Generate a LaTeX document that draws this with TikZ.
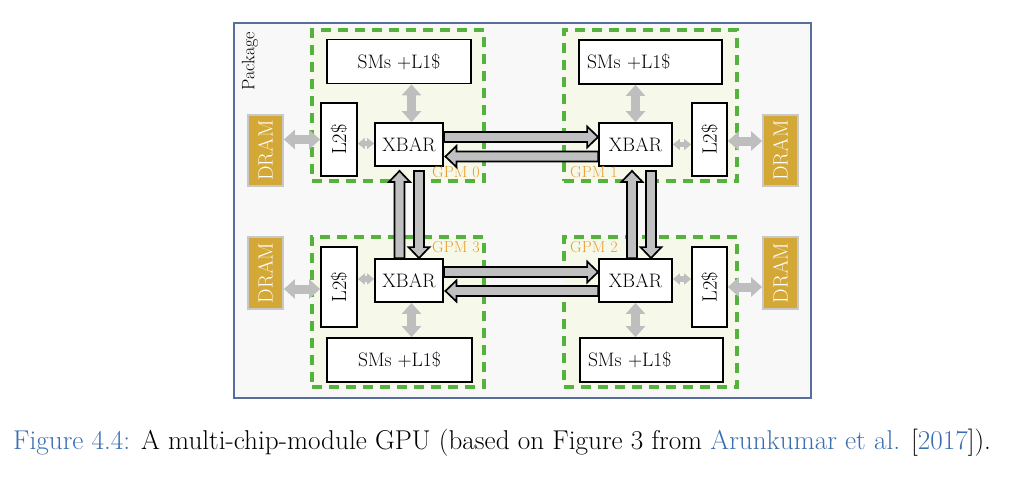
\documentclass[tikz,border=0pt]{standalone}
\usepackage{fontspec}
\usetikzlibrary{arrows.meta,calc}
\definecolor{pkgborder}{RGB}{90,110,155}
\definecolor{pkgfill}{RGB}{248,248,248}
\definecolor{gpmgreen}{RGB}{85,178,62}
\definecolor{gpmfill}{RGB}{246,249,233}
\definecolor{dramgold}{RGB}{212,168,55}
\definecolor{dramedge}{RGB}{200,200,200}
\definecolor{lightarrow}{RGB}{190,190,190}
\definecolor{fatgray}{RGB}{192,192,192}
\definecolor{gpmorange}{RGB}{234,158,50}
\definecolor{capblue}{RGB}{58,110,176}
\def\sw{5pt}\def\hw{10.5pt}\def\hl{11pt}
\newcommand\fatR[2]{\draw[fatarrow] let \p1=(#1),\p2=(#2) in (\x1,\y1+\sw) -- (\x2-\hl,\y1+\sw) -- (\x2-\hl,\y1+\hw) -- (\x2,\y1) -- (\x2-\hl,\y1-\hw) -- (\x2-\hl,\y1-\sw) -- (\x1,\y1-\sw) -- cycle;}
\newcommand\fatL[2]{\draw[fatarrow] let \p1=(#1),\p2=(#2) in (\x1,\y1+\sw) -- (\x2+\hl,\y1+\sw) -- (\x2+\hl,\y1+\hw) -- (\x2,\y1) -- (\x2+\hl,\y1-\hw) -- (\x2+\hl,\y1-\sw) -- (\x1,\y1-\sw) -- cycle;}
\newcommand\fatU[2]{\draw[fatarrow] let \p1=(#1),\p2=(#2) in (\x1-\sw,\y1) -- (\x1-\sw,\y2-\hl) -- (\x1-\hw,\y2-\hl) -- (\x1,\y2) -- (\x1+\hw,\y2-\hl) -- (\x1+\sw,\y2-\hl) -- (\x1+\sw,\y1) -- cycle;}
\newcommand\fatD[2]{\draw[fatarrow] let \p1=(#1),\p2=(#2) in (\x1-\sw,\y1) -- (\x1-\sw,\y2+\hl) -- (\x1-\hw,\y2+\hl) -- (\x1,\y2) -- (\x1+\hw,\y2+\hl) -- (\x1+\sw,\y2+\hl) -- (\x1+\sw,\y1) -- cycle;}
\begin{document}
\begin{tikzpicture}[x=1pt,y=-1pt,
  box/.style={draw=black, line width=1.8pt, fill=white, inner sep=0pt,
    font=\fontsize{19.5}{22}\selectfont},
  smsbox/.style={box, minimum height=44pt},
  xbarbox/.style={box, minimum height=43pt},
  l2box/.style={box, minimum width=36pt, font=\fontsize{20.5}{22}\selectfont},
  drambox/.style={draw=dramedge, line width=1.8pt, fill=dramgold, inner sep=0pt,
    minimum width=35pt, text=white, font=\fontsize{20.5}{22}\selectfont},
  gpm/.style={draw=gpmgreen, line width=3.5pt, dash pattern=on 10pt off 7pt,
    fill=gpmfill, inner sep=0pt, minimum width=172pt, minimum height=151pt},
  gpmlabel/.style={anchor=west, inner sep=0pt, text=gpmorange,
    font=\fontsize{16}{18}\selectfont},
  bigarrow/.style={draw=lightarrow, line width=9pt,
    {Triangle[width=19pt,length=11pt]}-{Triangle[width=19pt,length=11pt]}},
  smallarrow/.style={draw=lightarrow, line width=5.5pt,
    {Triangle[width=11pt,length=7pt]}-{Triangle[width=11pt,length=7pt]}},
  fatarrow/.style={draw=black, fill=fatgray, line width=1.7pt, line join=miter}]
\useasboundingbox (0,0) rectangle (1010,480);
% package
\node[draw=pkgborder, fill=pkgfill, line width=1.5pt, inner sep=0pt,
  minimum width=577pt, minimum height=375pt] (pkg) at (522.5,210.5) {};
\node[rotate=90, inner sep=0pt, font=\fontsize{18}{20}\selectfont] (pkglabel) at (250,61) {Package};
% GPM regions
\node[gpm] (g0) at (398,105.5) {};
\node[gpm, minimum width=173pt] (g1) at (650.5,105.5) {};
\node[gpm, minimum height=150pt] (g3) at (398,312) {};
\node[gpm, minimum width=173pt, minimum height=150pt] (g2) at (650.5,312) {};
% GPM 0
\node[smsbox, minimum width=144pt] (sm0) at (399,61.5) {SMs +L1\$};
\node[l2box, minimum height=73pt] (l20) at (339,139.5) {\rotatebox{90}{L2\$}};
\node[xbarbox, minimum width=68pt] (x0) at (409,144.5) {XBAR};
\node[drambox, minimum height=71pt] (d0) at (265.5,150.5) {\rotatebox{90}{DRAM}};
\node[gpmlabel] (lab0) at (432,172.5) {GPM 0};
% GPM 1
\node[smsbox, text width=127pt, align=left, inner xsep=8pt] (sm1) at (650.5,62) {SMs +L1\$};
\node[xbarbox, minimum width=73pt] (x1) at (635.5,144.5) {XBAR};
\node[l2box, minimum width=35pt, minimum height=73pt] (l21) at (709.5,139.5) {\rotatebox{90}{L2\$}};
\node[drambox, minimum height=71pt] (d1) at (780.5,150.5) {\rotatebox{90}{DRAM}};
\node[gpmlabel] (lab1) at (570,172.5) {GPM 1};
% GPM 3
\node[l2box, minimum height=80pt] (l23) at (339,287) {\rotatebox{90}{L2\$}};
\node[xbarbox, minimum width=68pt] (x3) at (409,280.5) {XBAR};
\node[smsbox, minimum width=145pt] (sm3) at (399.5,360) {SMs +L1\$};
\node[drambox, minimum height=72pt] (d3) at (265.5,273) {\rotatebox{90}{DRAM}};
\node[gpmlabel] (lab3) at (432,247.5) {GPM 3};
% GPM 2
\node[xbarbox, minimum width=73pt] (x2) at (635.5,280.5) {XBAR};
\node[l2box, minimum width=35pt, minimum height=80pt] (l22) at (709.5,287) {\rotatebox{90}{L2\$}};
\node[smsbox, text width=127pt, align=left, inner xsep=8pt] (sm2) at (651.5,360) {SMs +L1\$};
\node[drambox, minimum height=72pt] (d2) at (780.5,273) {\rotatebox{90}{DRAM}};
\node[gpmlabel] (lab2) at (570,247.5) {GPM 2};
% light grey links
\draw[bigarrow] (d0.east |- l20.west) -- (l20.west);
\draw[smallarrow] ([yshift=1pt]l20.east |- x0.west) -- ([yshift=1pt]x0.west);
\draw[bigarrow] ([xshift=2.5pt]sm0.south -| x0.north) -- ([xshift=2.5pt]x0.north);
\draw[bigarrow] ([yshift=-1.5pt]l21.east) -- ([yshift=-1.5pt]d1.west |- l21.east);
\draw[smallarrow] (x1.east) -- (l21.west |- x1.east);
\draw[bigarrow] (sm1.south -| x1.north) -- (x1.north);
\draw[bigarrow] ([yshift=-2pt]d3.east |- l23.west) -- ([yshift=-2pt]l23.west);
\draw[smallarrow] ([yshift=1.5pt]l23.east |- x3.west) -- ([yshift=1.5pt]x3.west);
\draw[bigarrow] ([xshift=2.5pt]x3.south) -- ([xshift=2.5pt]x3.south |- sm3.north);
\draw[bigarrow] (l22.east) -- (d2.west |- l22.east);
\draw[smallarrow] ([yshift=1.5pt]x2.east) -- ([yshift=1.5pt]l22.west |- x2.east);
\draw[bigarrow] (x2.south) -- (x2.south |- sm2.north);
% fat inter-GPM links
\fatR{$(x0.east)+(0,-7.5)$}{$(x1.west)+(0,-7.5)$}
\fatL{$(x1.west)+(0,12)$}{$(x0.east)+(1.5,12)$}
\fatU{$(x3.north)+(-9.5,0)$}{$(x0.south)+(-9.5,4)$}
\fatD{$(x0.south)+(10,4)$}{$(x3.north)+(10,0)$}
\fatU{$(x2.north)+(-3.5,0)$}{$(x1.south)+(-3.5,4)$}
\fatD{$(x1.south)+(15.5,4)$}{$(x2.north)+(15.5,0)$}
\fatR{$(x3.east)+(0,-8.5)$}{$(x2.west)+(0,-8.5)$}
\fatL{$(x2.west)+(0,10.5)$}{$(x3.east)+(1.5,10.5)$}
% caption
\node[anchor=base west, inner sep=0pt, font=\fontsize{27.2}{32}\selectfont] (cap) at (13,449)
  {\textcolor{capblue}{Figure 4.4:} A multi-chip-module GPU (based on Figure 3 from \textcolor{capblue}{Arunkumar et al.} [\textcolor{capblue}{2017}]).};
\end{tikzpicture}
\end{document}
